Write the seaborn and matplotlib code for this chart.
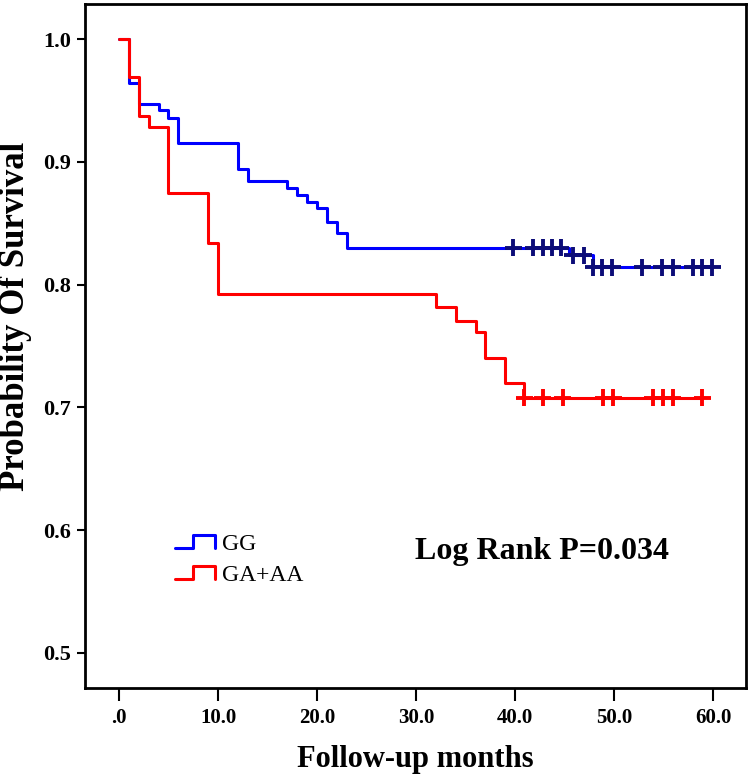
import numpy as np
import pandas as pd
import matplotlib
matplotlib.use('Agg')
import matplotlib.pyplot as plt
import seaborn as sns
from matplotlib.lines import Line2D
from matplotlib.legend_handler import HandlerBase

# Kaplan-Meier steps
gg_event_months = [1, 2, 4, 5, 6, 12, 13, 17, 18, 19, 20, 21, 22, 23, 45.4, 47.9]
gg_survival = [0.964, 0.947, 0.942, 0.936, 0.915, 0.894, 0.884, 0.879, 0.873,
               0.867, 0.862, 0.851, 0.842, 0.830, 0.824, 0.814]
gg_censored = [39.8, 41.8, 42.8, 43.7, 44.6, 45.8, 46.9, 47.9, 48.8, 49.8,
               52.8, 54.8, 55.9, 57.9, 58.9, 59.9]

ga_event_months = [1, 2, 3, 5, 9, 10, 32, 34, 36, 37, 39, 40.9]
ga_survival = [0.969, 0.937, 0.928, 0.875, 0.834, 0.792, 0.782, 0.770, 0.761,
               0.740, 0.720, 0.708]
ga_censored = [40.9, 42.8, 44.8, 48.9, 49.9, 53.9, 54.9, 55.9, 58.9]

groups = ['GG', 'GA+AA']
line_colors = {'GG': '#0000ff', 'GA+AA': '#ff0000'}
censor_colors = {'GG': '#0c0c78', 'GA+AA': '#ff0000'}

x_ticks = [0, 10, 20, 30, 40, 50, 60]
x_tick_labels = ['.0', '10.0', '20.0', '30.0', '40.0', '50.0', '60.0']
y_ticks = [0.5, 0.6, 0.7, 0.8, 0.9, 1.0]
y_tick_labels = ['0.5', '0.6', '0.7', '0.8', '0.9', '1.0']


def km_frames(name, events, surv, censored):
    t = [0] + list(events) + [max(censored)]
    s = [1.0] + list(surv) + [surv[-1]]
    curve = pd.DataFrame({'month': t, 'survival': s, 'group': name})
    idx = np.searchsorted(events, censored, side='right')
    levels = np.array([1.0] + list(surv))[idx]
    marks = pd.DataFrame({'month': censored, 'survival': levels, 'group': name})
    return curve, marks


c1, m1 = km_frames('GG', gg_event_months, gg_survival, gg_censored)
c2, m2 = km_frames('GA+AA', ga_event_months, ga_survival, ga_censored)
curves = pd.concat([c1, c2], ignore_index=True)
marks = pd.concat([m1, m2], ignore_index=True)

sns.set_style('white')
plt.rcParams['font.family'] = ['Liberation Serif', 'DejaVu Serif']
plt.rcParams['text.color'] = 'black'
plt.rcParams['xtick.color'] = 'black'
plt.rcParams['ytick.color'] = 'black'
plt.rcParams['axes.labelcolor'] = 'black'

fig = plt.figure(figsize=(7.5, 7.75), dpi=100)
ax = fig.add_axes([0.1133, 0.1123, 0.8814, 0.8825])

sns.lineplot(data=curves, x='month', y='survival', hue='group', hue_order=groups,
             palette=line_colors, drawstyle='steps-post', estimator=None,
             linewidth=2.2, legend=False, ax=ax)
sns.scatterplot(data=marks, x='month', y='survival', hue='group', hue_order=groups,
                palette=censor_colors, marker='+', s=150, linewidth=2.8,
                legend=False, ax=ax, zorder=3)

ax.set_xlim(-3.43, 63.3)
ax.set_ylim(0.4715, 1.0285)
ax.set_xticks(x_ticks, x_tick_labels, fontsize=15, fontweight='bold')
ax.set_yticks(y_ticks, y_tick_labels, fontsize=16, fontweight='bold')
ax.tick_params(axis='x', bottom=True, length=9.5, width=1.5, pad=5)
ax.tick_params(axis='y', left=True, length=6, width=1.5, pad=4)
for sp in ax.spines.values():
    sp.set_linewidth(2.0)
    sp.set_color('black')

ax.set_xlabel('Follow-up months', fontsize=22, fontweight='bold', labelpad=12)
ax.set_ylabel('Probability Of Survival', fontsize=25, fontweight='bold')
ax.yaxis.set_label_coords(-0.08, 0.544)


class StepHandler(HandlerBase):
    def create_artists(self, legend, orig_handle, xdescent, ydescent,
                       width, height, fontsize, trans):
        x0, y0 = -xdescent, -ydescent
        xs = [x0, x0 + 0.45 * width, x0 + 0.45 * width, x0 + width, x0 + width]
        ys = [y0, y0, y0 + height, y0 + height, y0]
        ln = Line2D(xs, ys, color=orig_handle.get_color(), linewidth=2.2,
                    transform=trans)
        return [ln]


handles = [Line2D([], [], color=line_colors[g]) for g in groups]
ax.legend(handles, groups, handler_map={Line2D: StepHandler()},
          loc='upper left', bbox_to_anchor=(0.136, 0.225), frameon=False,
          prop={'family': 'Liberation Serif', 'size': 17},
          handlelength=1.7, handleheight=0.45, handletextpad=0.3,
          labelspacing=0.42, borderpad=0, borderaxespad=0)

ax.text(0.691, 0.199, 'Log Rank P=0.034', transform=ax.transAxes,
        ha='center', va='center', fontsize=23, fontweight='bold')

fig.savefig('out.png', dpi=100)
